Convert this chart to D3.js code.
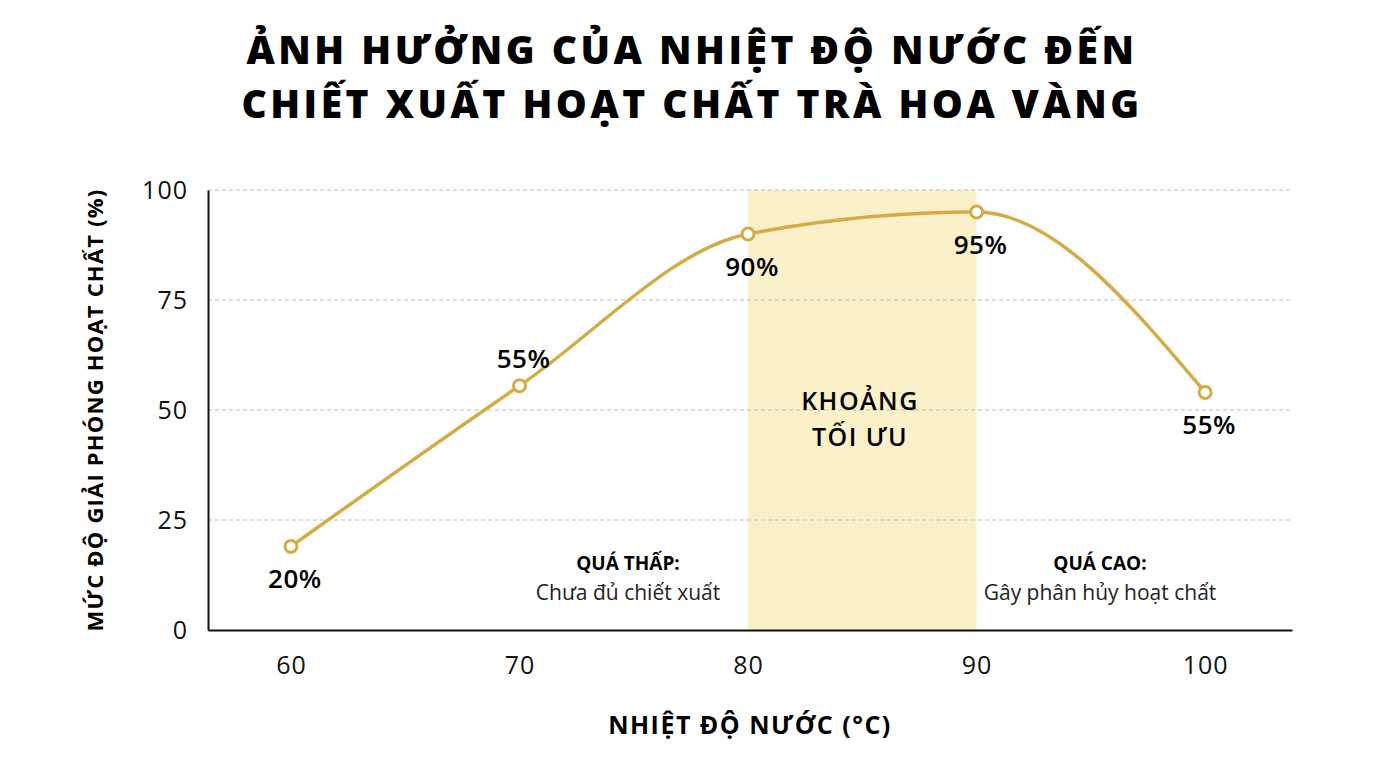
<!DOCTYPE html>
<html><head><meta charset="utf-8">
<script src="https://cdn.jsdelivr.net/npm/d3@7"></script>
<style>body{margin:0;background:#fff;font-family:"Open Sans",sans-serif}</style>
</head><body>
<svg id="chart" width="1376" height="768"></svg>
<script>
const temps = [60, 70, 80, 90, 100];
const release = [19, 55.5, 90, 95, 54];
const labels = ["20%", "55%", "90%", "95%", "55%"];
const labelPos = ["below", "above", "below", "below", "below"];
const yTicks = [0, 25, 50, 75, 100];
const optimal = [80, 90];

const svg = d3.select("#chart");
const color = "#d4ac45";
const x = d3.scaleLinear().domain([56.37, 103.8]).range([208, 1292]);
const y = d3.scaleLinear().domain([0, 100]).range([630, 190]);

// title
svg.append("text").attr("x",692).attr("y",64).attr("text-anchor","middle")
  .attr("font-size",39).attr("font-weight",800).attr("letter-spacing",3.5).text("ẢNH HƯỞNG CỦA NHIỆT ĐỘ NƯỚC ĐẾN");
svg.append("text").attr("x",692).attr("y",118).attr("text-anchor","middle")
  .attr("font-size",39).attr("font-weight",800).attr("letter-spacing",3.5).text("CHIẾT XUẤT HOẠT CHẤT TRÀ HOA VÀNG");

// optimal band
svg.append("rect").attr("x",x(optimal[0])).attr("y",y(100))
  .attr("width",x(optimal[1])-x(optimal[0])).attr("height",y(0)-y(100)).attr("fill","#fbf1c9");

// grid
svg.selectAll(".grid").data(yTicks.filter(d=>d>0)).enter().append("line")
  .attr("x1",208).attr("x2",1292).attr("y1",d=>y(d)).attr("y2",d=>y(d))
  .attr("stroke","#bbb").attr("stroke-dasharray","4,3");

// axes
const yAxis = svg.append("g").attr("transform","translate(208,0)")
  .call(d3.axisLeft(y).tickValues(yTicks).tickSize(0).tickPadding(20));
const xAxis = svg.append("g").attr("transform","translate(0,630)")
  .call(d3.axisBottom(x).tickValues(temps).tickSize(0).tickPadding(26));
[xAxis,yAxis].forEach(a=>{
  a.select(".domain").attr("stroke","#111").attr("stroke-width",2);
  a.selectAll("text").attr("font-size",25).attr("fill","#111").attr("font-family","Open Sans").attr("letter-spacing",1);
});
yAxis.selectAll("text").attr("dy","0.35em");

svg.append("text").attr("x",750).attr("y",734).attr("text-anchor","middle")
  .attr("font-size",25).attr("font-weight",700).attr("letter-spacing",1.5).text("NHIỆT ĐỘ NƯỚC (°C)");
svg.append("text").attr("transform","translate(103,410) rotate(-90)").attr("text-anchor","middle")
  .attr("font-size",22).attr("font-weight",700).attr("letter-spacing",1.2).text("MỨC ĐỘ GIẢI PHÓNG HOẠT CHẤT (%)");

// band label
svg.append("text").attr("x",860).attr("y",410).attr("text-anchor","middle")
  .attr("font-size",25).attr("font-weight",600).attr("letter-spacing",1.5).text("KHOẢNG");
svg.append("text").attr("x",860).attr("y",446).attr("text-anchor","middle")
  .attr("font-size",25).attr("font-weight",600).attr("letter-spacing",1.5).text("TỐI ƯU");

// annotations
[[628,"QUÁ THẤP:","Chưa đủ chiết xuất"],[1100,"QUÁ CAO:","Gây phân hủy hoạt chất"]].forEach(([cx,a,b])=>{
  svg.append("text").attr("x",cx).attr("y",570).attr("text-anchor","middle")
    .attr("font-size",19).attr("font-weight",700).text(a);
  svg.append("text").attr("x",cx).attr("y",600).attr("text-anchor","middle")
    .attr("font-size",21).attr("fill","#222").text(b);
});

// line
const data = temps.map((t,i)=>({t, v:release[i], l:labels[i], p:labelPos[i]}));
svg.append("path").datum(data).attr("fill","none").attr("stroke",color).attr("stroke-width",3.5)
  .attr("d", d3.line().x(d=>x(d.t)).y(d=>y(d.v)).curve(d3.curveMonotoneX));
svg.selectAll(".pt").data(data).enter().append("circle")
  .attr("cx",d=>x(d.t)).attr("cy",d=>y(d.v)).attr("r",6)
  .attr("fill","#fff").attr("stroke",color).attr("stroke-width",3);
svg.selectAll(".lbl").data(data).enter().append("text")
  .attr("x",d=>x(d.t)+4).attr("y",d=>d.p==="above"?y(d.v)-18:y(d.v)+42)
  .attr("text-anchor","middle").attr("font-size",26).attr("font-weight",600).attr("letter-spacing",0.5).text(d=>d.l);
</script>
</body></html>
